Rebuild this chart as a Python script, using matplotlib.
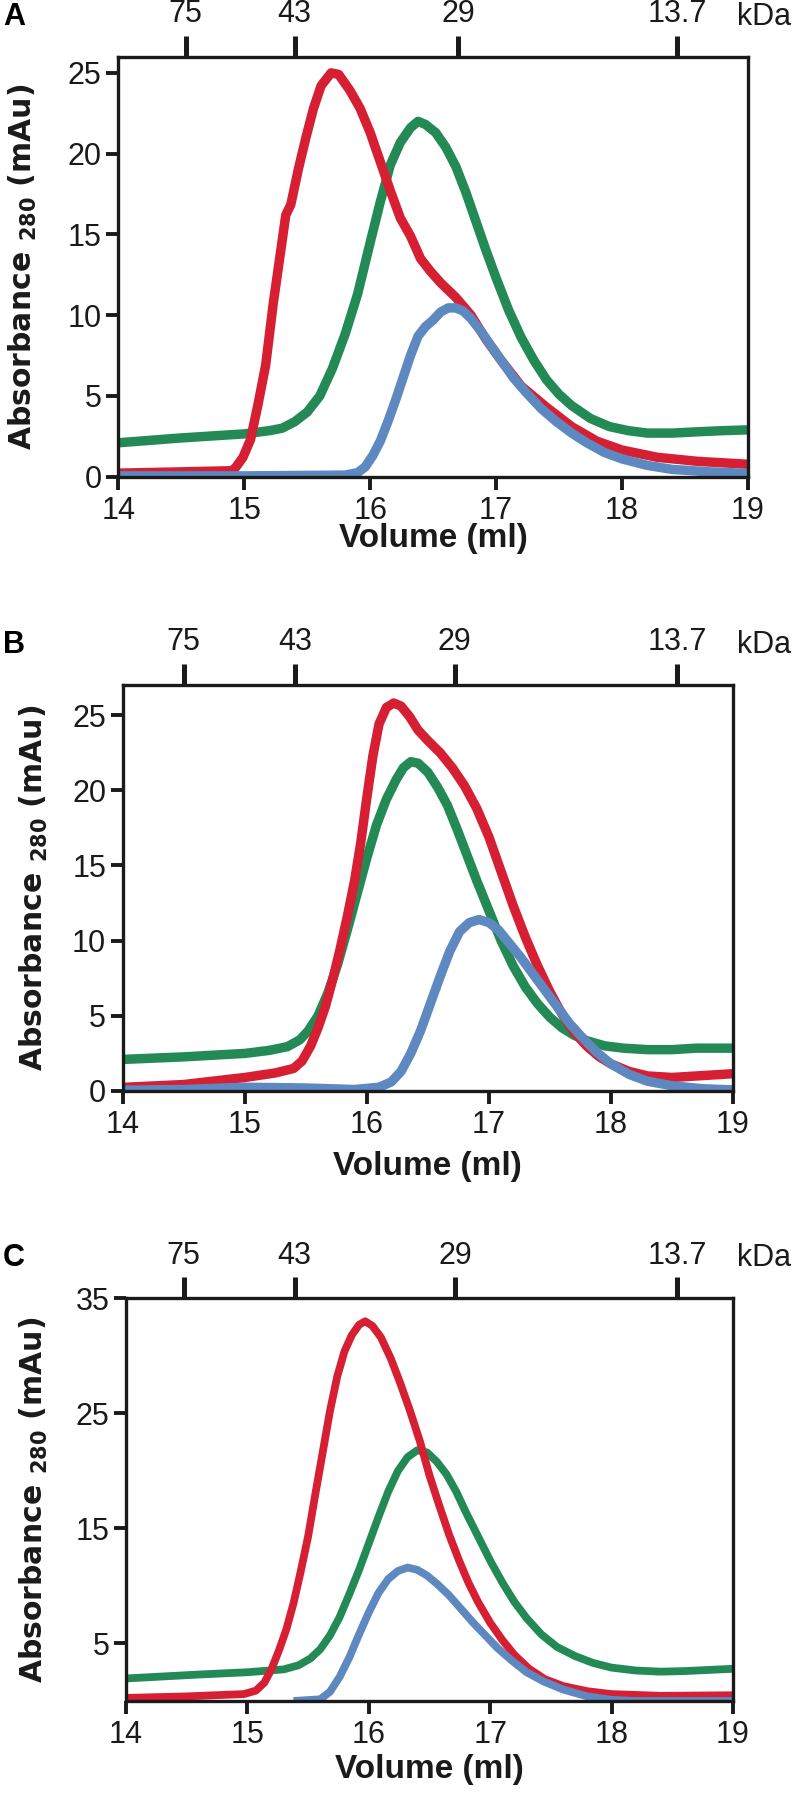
import matplotlib
matplotlib.use("Agg")
import matplotlib.pyplot as plt
from matplotlib import font_manager

names = {f.name for f in font_manager.fontManager.ttflist}
NARROW = 'Liberation Sans Narrow' if 'Liberation Sans Narrow' in names else 'Liberation Sans'
REG = 'Liberation Sans'

plt.rcParams['mathtext.fontset'] = 'dejavusans'

W, H = 794, 1794

# ---------------- data ----------------
# Panel A
a_red_x = [14.0, 14.5, 14.9, 14.93, 14.99, 15.05, 15.11, 15.17, 15.23, 15.29, 15.33, 15.37, 15.43, 15.49, 15.55, 15.61, 15.69, 15.75, 15.84, 15.92, 16.0, 16.08, 16.16, 16.24, 16.32, 16.4, 16.48, 16.56, 16.68, 16.8, 16.92, 17.04, 17.2, 17.4, 17.6, 17.8, 18.0, 18.28, 18.6, 19.0]
a_red_y = [0.22, 0.3, 0.37, 0.55, 1.2, 2.3, 4.5, 6.9, 10.7, 14.0, 16.2, 16.85, 19.05, 21.0, 22.8, 24.2, 25.0, 24.9, 23.9, 22.8, 21.3, 19.5, 17.7, 16.0, 14.9, 13.5, 12.7, 12.0, 11.1, 10.0, 8.5, 7.2, 5.6, 4.3, 3.1, 2.2, 1.65, 1.2, 0.95, 0.77]
a_green_x = [14.0, 14.5, 15.0, 15.2, 15.3, 15.4, 15.5, 15.6, 15.7, 15.8, 15.9, 16.0, 16.08, 16.16, 16.24, 16.32, 16.38, 16.44, 16.52, 16.6, 16.68, 16.76, 16.84, 16.92, 17.0, 17.1, 17.2, 17.3, 17.4, 17.5, 17.6, 17.75, 17.9, 18.05, 18.2, 18.4, 18.6, 18.8, 19.0]
a_green_y = [2.1, 2.4, 2.65, 2.85, 3.0, 3.4, 4.0, 5.0, 6.7, 8.8, 11.3, 14.5, 17.0, 19.3, 20.7, 21.6, 22.0, 21.8, 21.3, 20.4, 19.2, 17.6, 15.8, 14.0, 12.3, 10.3, 8.6, 7.2, 6.0, 5.1, 4.4, 3.6, 3.1, 2.85, 2.7, 2.7, 2.78, 2.85, 2.9]
a_blue_x = [14.0, 15.0, 15.8, 15.9, 15.96, 16.02, 16.08, 16.14, 16.2, 16.26, 16.32, 16.38, 16.44, 16.5, 16.56, 16.62, 16.68, 16.74, 16.8, 16.88, 16.96, 17.04, 17.14, 17.24, 17.36, 17.48, 17.6, 17.72, 17.86, 18.0, 18.2, 18.4, 18.7, 19.0]
a_blue_y = [0.05, 0.05, 0.1, 0.25, 0.6, 1.3, 2.2, 3.4, 4.7, 6.1, 7.5, 8.7, 9.3, 9.7, 10.2, 10.45, 10.45, 10.25, 9.8, 9.0, 8.1, 7.2, 6.1, 5.2, 4.2, 3.4, 2.7, 2.1, 1.5, 1.1, 0.7, 0.45, 0.3, 0.2]

# Panel B
b_red_x = [14.0, 14.5, 15.0, 15.25, 15.4, 15.47, 15.54, 15.6, 15.66, 15.72, 15.78, 15.84, 15.9, 15.95, 16.0, 16.05, 16.1, 16.16, 16.22, 16.28, 16.35, 16.42, 16.5, 16.6, 16.7, 16.8, 16.9, 17.0, 17.1, 17.2, 17.3, 17.4, 17.5, 17.6, 17.7, 17.8, 17.9, 18.0, 18.15, 18.3, 18.5, 18.7, 19.0]
b_red_y = [0.24, 0.43, 0.9, 1.2, 1.5, 2.0, 3.0, 4.2, 5.6, 7.4, 9.4, 11.6, 14.0, 16.5, 19.5, 22.3, 24.4, 25.5, 25.8, 25.6, 24.9, 24.0, 23.3, 22.5, 21.5, 20.3, 18.8, 16.9, 14.6, 12.3, 10.2, 8.3, 6.6, 5.1, 3.9, 3.0, 2.3, 1.8, 1.3, 1.0, 0.9, 1.0, 1.15]
b_green_x = [14.0, 14.5, 15.0, 15.2, 15.35, 15.45, 15.52, 15.6, 15.68, 15.76, 15.84, 15.92, 16.0, 16.08, 16.16, 16.24, 16.3, 16.36, 16.42, 16.5, 16.58, 16.66, 16.74, 16.82, 16.9, 17.0, 17.1, 17.2, 17.3, 17.4, 17.5, 17.6, 17.7, 17.8, 17.95, 18.1, 18.3, 18.5, 18.7, 19.0]
b_green_y = [2.1, 2.27, 2.5, 2.7, 2.95, 3.4, 4.0, 5.0, 6.5, 8.4, 10.7, 13.1, 15.5, 17.7, 19.4, 20.7, 21.5, 21.9, 21.8, 21.2, 20.2, 19.0, 17.4, 15.7, 14.0, 12.0, 10.0, 8.3, 6.9, 5.8, 4.9, 4.2, 3.7, 3.35, 3.0, 2.85, 2.75, 2.75, 2.85, 2.85]
b_blue_x = [14.0, 14.5, 15.0, 15.5, 15.9, 16.1, 16.2, 16.28, 16.36, 16.44, 16.52, 16.6, 16.68, 16.76, 16.84, 16.92, 17.0, 17.08, 17.16, 17.26, 17.36, 17.46, 17.56, 17.66, 17.76, 17.88, 18.0, 18.15, 18.3, 18.5, 18.75, 19.0]
b_blue_y = [0.05, 0.1, 0.25, 0.2, 0.1, 0.25, 0.6, 1.3, 2.5, 4.0, 5.8, 7.6, 9.3, 10.6, 11.2, 11.4, 11.2, 10.7, 9.9, 8.9, 7.8, 6.7, 5.6, 4.5, 3.6, 2.6, 1.8, 1.1, 0.65, 0.35, 0.15, 0.07]

# Panel C
c_red_x = [14.0, 14.5, 14.97, 15.07, 15.14, 15.2, 15.26, 15.32, 15.38, 15.44, 15.5, 15.56, 15.62, 15.68, 15.74, 15.8, 15.86, 15.92, 15.97, 16.03, 16.1, 16.18, 16.26, 16.34, 16.42, 16.5, 16.58, 16.66, 16.74, 16.82, 16.9, 17.0, 17.1, 17.2, 17.32, 17.45, 17.6, 17.8, 18.0, 18.4, 19.0]
c_red_y = [0.27, 0.4, 0.6, 0.9, 1.6, 2.8, 4.4, 6.2, 8.5, 11.3, 14.3, 18.0, 21.6, 25.2, 28.2, 30.4, 31.8, 32.7, 33.0, 32.6, 31.6, 29.8, 27.6, 25.2, 22.6, 19.6, 17.0, 14.5, 12.3, 10.3, 8.6, 6.8, 5.3, 4.0, 2.8, 1.9, 1.3, 0.85, 0.6, 0.45, 0.5]
c_green_x = [14.0, 14.6, 15.0, 15.3, 15.42, 15.52, 15.6, 15.68, 15.76, 15.84, 15.92, 16.0, 16.08, 16.16, 16.24, 16.32, 16.4, 16.48, 16.56, 16.64, 16.72, 16.8, 16.9, 17.0, 17.1, 17.2, 17.3, 17.42, 17.55, 17.7, 17.85, 18.0, 18.2, 18.4, 18.6, 18.8, 19.0]
c_green_y = [1.96, 2.3, 2.5, 2.75, 3.1, 3.7, 4.5, 5.7, 7.3, 9.3, 11.4, 13.7, 16.0, 18.2, 20.0, 21.2, 21.8, 21.6, 20.8, 19.7, 18.2, 16.4, 14.3, 12.2, 10.3, 8.6, 7.2, 5.8, 4.7, 3.9, 3.3, 2.9, 2.65, 2.55, 2.6, 2.7, 2.8]
c_blue_x = [15.38, 15.6, 15.68, 15.76, 15.84, 15.92, 16.0, 16.08, 16.16, 16.24, 16.32, 16.4, 16.48, 16.56, 16.66, 16.76, 16.86, 16.96, 17.06, 17.18, 17.3, 17.44, 17.6, 17.8, 18.0, 18.2, 19.0]
c_blue_y = [0.0, 0.15, 0.8, 2.1, 3.8, 5.8, 7.7, 9.4, 10.6, 11.3, 11.6, 11.4, 10.9, 10.2, 9.2, 8.0, 6.8, 5.7, 4.6, 3.5, 2.5, 1.7, 1.0, 0.4, 0.1, 0.0, 0.0]

x_ticks = [14, 15, 16, 17, 18, 19]
kda_labels = ['75', '43', '29', '13.7']
a_kda_pos = [14.535, 15.40, 16.70, 18.44]
b_kda_pos = [14.50, 15.41, 16.72, 18.54]
c_kda_pos = [14.475, 15.39, 16.71, 18.54]
a_yticks = [0, 5, 10, 15, 20, 25]
b_yticks = [0, 5, 10, 15, 20, 25]
c_yticks = [5, 15, 25, 35]

RED = '#D61F33'
GREEN = '#238A56'
BLUE = '#5D88C0'

fig = plt.figure(figsize=(W / 100, H / 100), dpi=100)


def fx(x):
    return x / W


def fy(y):
    return 1 - y / H


panels = [
    dict(letter='A', box=(118.3, 748, 56.7, 476.7), ylim=(0, 26), yticks=a_yticks, kda=a_kda_pos,
         red=(a_red_x, a_red_y), green=(a_green_x, a_green_y), blue=(a_blue_x, a_blue_y),
         ylab_x=23, xlab_y=539, lw=6.8),
    dict(letter='B', box=(122.7, 733, 685, 1091), ylim=(0, 27), yticks=b_yticks, kda=b_kda_pos,
         red=(b_red_x, b_red_y), green=(b_green_x, b_green_y), blue=(b_blue_x, b_blue_y),
         ylab_x=34, xlab_y=1167, lw=6.8),
    dict(letter='C', box=(126, 733, 1298.3, 1701), ylim=(0, 35), yticks=c_yticks, kda=c_kda_pos,
         red=(c_red_x, c_red_y), green=(c_green_x, c_green_y), blue=(c_blue_x, c_blue_y),
         ylab_x=34, xlab_y=1769, lw=5.6),
]

for p in panels:
    l, r, t, b = p['box']
    ax = fig.add_axes([fx(l), fy(b), fx(r) - fx(l), (b - t) / H])
    for key, col in (('green', GREEN), ('red', RED), ('blue', BLUE)):
        ax.plot(*p[key], color=col, lw=p['lw'], solid_capstyle='butt', solid_joinstyle='round')
    ax.set_xlim(14, 19)
    ax.set_ylim(*p['ylim'])
    ax.set_xticks(x_ticks)
    ax.set_xticklabels([str(v) for v in x_ticks], fontfamily=REG, fontsize=22)
    ax.set_yticks(p['yticks'])
    ax.set_yticklabels([str(v) for v in p['yticks']], fontfamily=REG, fontsize=22)
    for s in ax.spines.values():
        s.set_linewidth(2.4)
        s.set_color('#1a1a1a')
    ax.tick_params(axis='both', direction='out', length=9, width=2.8, color='#1a1a1a', labelcolor='#1a1a1a')
    ax.tick_params(axis='x', pad=5)
    ax.tick_params(axis='y', pad=3)

    top = ax.secondary_xaxis('top')
    top.set_xticks(p['kda'])
    top.set_xticklabels(kda_labels, fontfamily=REG, fontsize=22)
    top.tick_params(direction='out', length=15, width=3.6, color='#1a1a1a', pad=5, labelcolor='#1a1a1a')
    top.spines['top'].set_visible(False)

    ty = t - 40
    fig.text(fx(737), fy(ty), 'kDa', fontfamily=REG, fontsize=22, ha='left', va='center', color='#1a1a1a')
    fig.text(fx(3), fy(ty), p['letter'], fontfamily=NARROW, fontweight='bold', fontsize=22,
             ha='left', va='center', color='black')
    fig.text(fx((l + r) / 2), fy(p['xlab_y']), 'Volume (ml)', fontfamily=NARROW, fontweight='bold',
             fontsize=24, ha='center', va='center', color='#1a1a1a')
    fig.text(fx(p['ylab_x']), fy((t + b) / 2), r'Absorbance $\mathbf{_{280}}$ (mAu)', fontfamily='DejaVu Sans',
             fontweight='bold', fontsize=21.5, rotation=90, ha='center', va='center', color='#1a1a1a')

fig.savefig('out.png', dpi=100)
